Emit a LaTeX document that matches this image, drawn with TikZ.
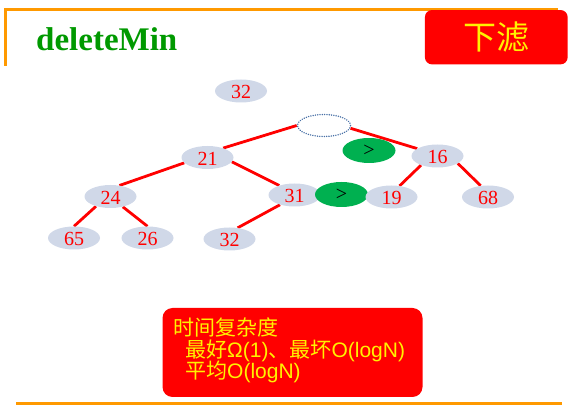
\documentclass[tikz,border=0pt]{standalone}
\usepackage{fontspec}
\setmainfont{Liberation Serif}
\newfontfamily\cjk{Noto Sans CJK SC}
\newfontfamily\arialf{Liberation Sans}
\usetikzlibrary{shapes.geometric}
\definecolor{lineorange}{RGB}{255,153,0}
\definecolor{titlegreen}{RGB}{0,153,0}
\definecolor{nodefill}{RGB}{208,216,232}
\definecolor{gtgreen}{RGB}{0,176,80}
\definecolor{dotblue}{RGB}{72,112,166}
\pgfdeclarelayer{bg}
\pgfsetlayers{bg,main}
\begin{document}
\begin{tikzpicture}[x=1pt,y=-1pt,
  num/.style={ellipse, fill=nodefill, minimum width=52pt, minimum height=23pt, inner sep=0pt, text height=16pt, text depth=0pt, text=red, font=\fontsize{20}{20}\selectfont},
  gt/.style={ellipse, fill=gtgreen, minimum width=53pt, minimum height=25pt, inner sep=0pt, text=black, font=\fontsize{20}{20}\selectfont},
  edge/.style={red, line width=2.8pt},
  boxtext/.style={anchor=base west, inner sep=0pt, text=yellow, font=\fontsize{21}{21}\selectfont},
]
\useasboundingbox (0,0) rectangle (576,411);
% frame lines
\draw[lineorange, line width=2.7pt, line join=miter] (5.3,66) -- (5.3,9.7) -- (558,9.7);
\draw[lineorange, line width=3pt] (16,403.5) -- (562,403.5);
% title
\node[anchor=base west, inner sep=0pt, text=titlegreen, font=\fontsize{33}{33}\selectfont\bfseries] (title) at (36,50.7) {deleteMin};
\node[fill=red, rounded corners=7pt, minimum width=142.7pt, minimum height=54.3pt, inner sep=0pt, text=yellow, font=\fontsize{33}{33}\selectfont\cjk] (filter) at (496.3,37.2) {下滤};
% tree
\node[num] (top32) at (241,91) {32};
\node[ellipse, draw=dotblue, line width=1.6pt, dash pattern=on 0.01pt off 2.3pt, line cap=round, fill=white, minimum width=53pt, minimum height=22pt, inner sep=0pt] (dot) at (324,125.5) {};
\node[num] (n21) at (207.5,157.5) {21};
\node[num] (n16) at (437.5,156) {16};
\node[gt] (g1) at (369,150.5) {>};
\node[num] (n24) at (110.5,196.5) {24};
\node[num] (n31) at (294.5,195) {31};
\node[gt] (g2) at (341.5,194.5) {>};
\node[num] (n19) at (391.5,197) {19};
\node[num] (n68) at (488,197) {68};
\node[num] (n65) at (74,238) {65};
\node[num] (n26) at (147.5,238) {26};
\node[num] (n32) at (229.5,239) {32};
\begin{pgfonlayer}{bg}
\draw[edge] (dot.west) -- (n21.31);
\draw[edge] (dot.354) -- (n16.160);
\draw[edge] (n21.193) -- (n24.51);
\draw[edge] (n21.350) -- (n31.148);
\draw[edge] (n24.214) -- (n65.north);
\draw[edge] (n24.320) -- (n26.north);
\draw[edge] (n31.214) -- (n32.54);
\draw[edge] (n16.209) -- (n19.54);
\draw[edge] (n16.340) -- (n68.123);
\end{pgfonlayer}
% complexity box
\node[fill=red, rounded corners=10pt, minimum width=260pt, minimum height=89pt, inner sep=0pt] (cbox) at (292.5,352.5) {};
\node[boxtext] (l1) at (173,335.5) {\cjk 时间复杂度};
\node[boxtext] (l2) at (185,357.5) {\cjk 最好\arialf Ω(1)\cjk 、最坏\arialf O(logN)};
\node[boxtext] (l3) at (185,379) {\cjk 平均\arialf O(logN)};
\end{tikzpicture}
\end{document}
